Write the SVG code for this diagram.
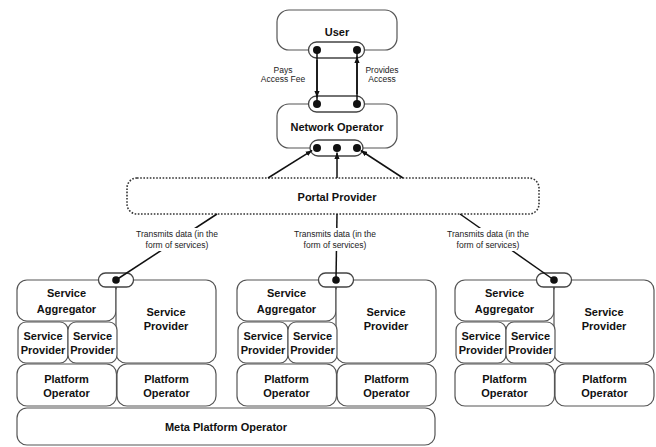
<svg xmlns="http://www.w3.org/2000/svg" width="656" height="447" viewBox="0 0 656 447">
<defs>
<style>
.box{fill:#fff;stroke:#555;stroke-width:1.2}
.pill{fill:#fff;stroke:#444;stroke-width:1.3}
.portal{fill:#fff;stroke:#333;stroke-width:1.6;stroke-dasharray:1.6 1.6}
.t{font-family:"Liberation Sans",Arial,sans-serif;font-weight:bold;font-size:11px;fill:#111;text-anchor:middle}
.s{font-family:"Liberation Sans",Arial,sans-serif;font-size:8.5px;fill:#222;text-anchor:middle}
.ln{stroke:#111;stroke-width:1.5;fill:none}
.dot{fill:#111}
</style>
<marker id="arr" viewBox="0 0 10 8" refX="10" refY="4" markerWidth="6.5" markerHeight="5.2" orient="auto" markerUnits="userSpaceOnUse">
<path d="M0,0 L10,4 L0,8 z" fill="#111"/>
</marker>
</defs>
<rect width="656" height="447" fill="#fff"/>

<g id="user">
<rect class="box" x="277" y="10" width="120" height="40" rx="12"/>
<text class="t" x="337" y="36">User</text>
<rect class="pill" x="308.5" y="42" width="56" height="16" rx="8"/>
</g>

<g id="network-operator">
<rect class="box" x="277" y="104" width="120" height="44" rx="12"/>
<text class="t" x="337" y="131">Network Operator</text>
<rect class="pill" x="308.5" y="96" width="56" height="16" rx="8"/>
<rect class="pill" x="310" y="140" width="53" height="16" rx="8"/>
</g>

<g id="portal-provider">
<rect class="portal" x="127" y="178" width="412" height="36" rx="10"/>
<text class="t" x="337" y="201">Portal Provider</text>
</g>

<g id="meta-platform-operator">
<rect class="box" x="17" y="408" width="418" height="37" rx="10"/>
<text class="t" x="226" y="431">Meta Platform Operator</text>
</g>

<g id="group-left">
<rect class="box" x="17" y="280" width="99" height="41" rx="10"/>
<rect class="box" x="116" y="280" width="100" height="83" rx="10"/>
<rect class="box" x="18" y="322" width="50" height="41" rx="8"/>
<rect class="box" x="68" y="322" width="49" height="41" rx="8"/>
<rect class="box" x="17" y="364" width="99.5" height="42" rx="10"/>
<rect class="box" x="117" y="364" width="99" height="42" rx="10"/>
<rect class="pill" x="98.5" y="273" width="35" height="14" rx="7"/>
<text class="t" x="66.5" y="297">Service</text><text class="t" x="66.5" y="313">Aggregator</text>
<text class="t" x="43" y="340">Service</text><text class="t" x="43" y="354">Provider</text>
<text class="t" x="92.5" y="340">Service</text><text class="t" x="92.5" y="354">Provider</text>
<text class="t" x="166" y="316">Service</text><text class="t" x="166" y="330">Provider</text>
<text class="t" x="66.5" y="383">Platform</text><text class="t" x="66.5" y="397">Operator</text>
<text class="t" x="166.5" y="383">Platform</text><text class="t" x="166.5" y="397">Operator</text>
</g>

<g id="group-middle">
<rect class="box" x="237" y="280" width="99" height="41" rx="10"/>
<rect class="box" x="336" y="280" width="100" height="83" rx="10"/>
<rect class="box" x="238" y="322" width="50" height="41" rx="8"/>
<rect class="box" x="288" y="322" width="49" height="41" rx="8"/>
<rect class="box" x="237" y="364" width="99.5" height="42" rx="10"/>
<rect class="box" x="337" y="364" width="99" height="42" rx="10"/>
<rect class="pill" x="318.5" y="273" width="35" height="14" rx="7"/>
<text class="t" x="286.5" y="297">Service</text><text class="t" x="286.5" y="313">Aggregator</text>
<text class="t" x="263" y="340">Service</text><text class="t" x="263" y="354">Provider</text>
<text class="t" x="312.5" y="340">Service</text><text class="t" x="312.5" y="354">Provider</text>
<text class="t" x="386" y="316">Service</text><text class="t" x="386" y="330">Provider</text>
<text class="t" x="286.5" y="383">Platform</text><text class="t" x="286.5" y="397">Operator</text>
<text class="t" x="386.5" y="383">Platform</text><text class="t" x="386.5" y="397">Operator</text>
</g>

<g id="group-right">
<rect class="box" x="455" y="280" width="99" height="41" rx="10"/>
<rect class="box" x="554" y="280" width="100" height="83" rx="10"/>
<rect class="box" x="456" y="322" width="50" height="41" rx="8"/>
<rect class="box" x="506" y="322" width="49" height="41" rx="8"/>
<rect class="box" x="455" y="364" width="99.5" height="42" rx="10"/>
<rect class="box" x="555" y="364" width="99" height="42" rx="10"/>
<rect class="pill" x="536.5" y="273" width="35" height="14" rx="7"/>
<text class="t" x="504.5" y="297">Service</text><text class="t" x="504.5" y="313">Aggregator</text>
<text class="t" x="481" y="340">Service</text><text class="t" x="481" y="354">Provider</text>
<text class="t" x="530.5" y="340">Service</text><text class="t" x="530.5" y="354">Provider</text>
<text class="t" x="604" y="316">Service</text><text class="t" x="604" y="330">Provider</text>
<text class="t" x="504.5" y="383">Platform</text><text class="t" x="504.5" y="397">Operator</text>
<text class="t" x="604.5" y="383">Platform</text><text class="t" x="604.5" y="397">Operator</text>
</g>

<g id="connectors">
<line class="ln" x1="317" y1="50" x2="317" y2="104"/>
<line class="ln" x1="317" y1="60" x2="317" y2="97.5" marker-end="url(#arr)"/>
<line class="ln" x1="357" y1="104" x2="357" y2="50"/>
<line class="ln" x1="357" y1="94" x2="357" y2="56.5" marker-end="url(#arr)"/>
<line class="ln" x1="268" y1="178" x2="312.2" y2="150.4" marker-end="url(#arr)"/>
<line class="ln" x1="337" y1="178" x2="337" y2="152.5" marker-end="url(#arr)"/>
<line class="ln" x1="403" y1="178" x2="360.8" y2="150.5" marker-end="url(#arr)"/>
<line class="ln" x1="217" y1="214" x2="116" y2="280"/>
<line class="ln" x1="337" y1="214" x2="336" y2="280"/>
<line class="ln" x1="460" y1="214" x2="554" y2="280"/>
</g>

<g id="labels">
<text class="s" x="283" y="73">Pays</text>
<text class="s" x="283" y="82">Access Fee</text>
<text class="s" x="382" y="73">Provides</text>
<text class="s" x="382" y="82">Access</text>
<rect x="135" y="228" width="84" height="23" fill="#fff"/>
<text class="s" x="177" y="237">Transmits data (in the</text>
<text class="s" x="177" y="248">form of services)</text>
<rect x="293" y="228" width="84" height="23" fill="#fff"/>
<text class="s" x="335" y="237">Transmits data (in the</text>
<text class="s" x="335" y="248">form of services)</text>
<rect x="446" y="228" width="84" height="23" fill="#fff"/>
<text class="s" x="488" y="237">Transmits data (in the</text>
<text class="s" x="488" y="248">form of services)</text>
</g>

<g id="ports">
<circle class="dot" cx="317" cy="50" r="4"/>
<circle class="dot" cx="357" cy="50" r="4"/>
<circle class="dot" cx="317" cy="104" r="4"/>
<circle class="dot" cx="357" cy="104" r="4"/>
<circle class="dot" cx="317" cy="148" r="4"/>
<circle class="dot" cx="337" cy="148" r="4"/>
<circle class="dot" cx="357" cy="148" r="4"/>
<circle class="dot" cx="116" cy="280" r="3.8"/>
<circle class="dot" cx="336" cy="280" r="3.8"/>
<circle class="dot" cx="554" cy="280" r="3.8"/>
</g>
</svg>
